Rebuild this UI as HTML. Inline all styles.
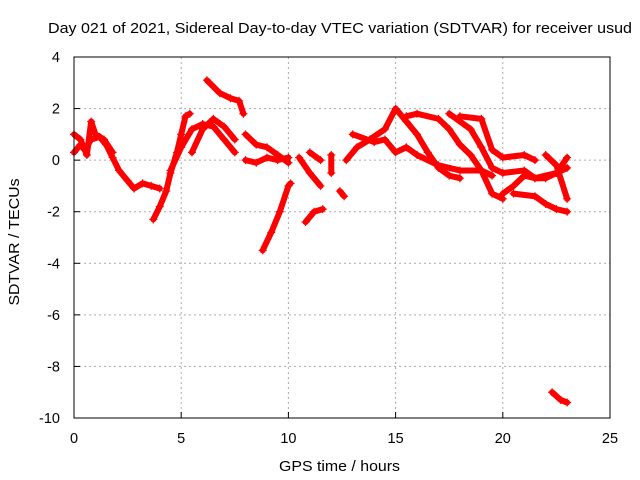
<!DOCTYPE html>
<html><head><meta charset="utf-8"><style>
body{margin:0;background:#fff}
svg{display:block;font-family:"Liberation Sans",sans-serif}
</style></head><body>
<svg id="chart" width="640" height="480">
<text x="48" y="33" font-size="15" textLength="584" lengthAdjust="spacingAndGlyphs">Day 021 of 2021, Sidereal Day-to-day VTEC variation (SDTVAR) for receiver usud</text>
<text x="279" y="471" font-size="15" textLength="121" lengthAdjust="spacingAndGlyphs">GPS time / hours</text>
<text x="19" y="242" text-anchor="middle" font-size="15" textLength="127" lengthAdjust="spacingAndGlyphs" transform="rotate(-90 19 242)">SDTVAR / TECUs</text>
<g id="grid"></g><g id="marks"></g>
<rect x="74" y="57" width="536" height="361" fill="none" stroke="#000"/>
</svg>
<script>
const xTicks=[0,5,10,15,20,25];
const yTicks=[4,2,0,-2,-4,-6,-8,-10];
const tracks=[
[[0,0.3],[0.3,0.6],[0.5,0.4],[0.8,0.8],[1.2,0.9],[1.5,0.6],[1.8,0.1],[2.1,-0.4],[2.5,-0.8],[2.8,-1.1],[3.2,-0.9],[3.6,-1.0],[4.0,-1.1]],
[[0,1.0],[0.3,0.8],[0.6,0.2],[0.8,1.5],[1.0,1.0],[1.4,0.8],[1.8,0.3]],
[[3.7,-2.3],[4.0,-1.8],[4.3,-1.2],[4.5,-0.5],[4.8,0.3],[5.0,1.0],[5.2,1.7],[5.4,1.8]],
[[4.5,-0.4],[5,0.5],[5.5,1.2],[6,1.4],[6.5,1.3],[7,0.8],[7.5,0.3]],
[[5.5,0.3],[6,1.2],[6.5,1.6],[7,1.3],[7.5,0.8]],
[[6.2,3.1],[6.8,2.6],[7.3,2.4],[7.7,2.3],[7.9,1.8]],
[[8,1.0],[8.5,0.6],[9,0.5],[9.5,0.2],[10,-0.1]],
[[8,0.0],[8.5,-0.1],[9,0.1],[9.5,0.0],[10,0.1]],
[[8.8,-3.5],[9.2,-2.8],[9.6,-2.0],[10,-1.0],[10.1,-0.9]],
[[10.8,-2.4],[11.2,-2.0],[11.6,-1.9]],
[[10.5,0.1],[11,-0.5],[11.5,-1.0]],
[[11,0.3],[11.5,0.0]],
[[12,0.2],[12,-0.5]],
[[12.4,-1.2],[12.6,-1.4]],
[[12.7,0.0],[13.2,0.5],[13.8,0.8],[14.5,1.2],[15,2.0],[15.5,1.5],[16,1.0],[16.5,0.3],[17,-0.3],[17.5,-0.6],[18,-0.7]],
[[13,1.0],[14,0.7],[14.5,0.8],[15,0.3],[15.5,0.5],[16,0.2],[17,-0.2],[18,-0.4],[19,-0.4],[19.5,-0.6]],
[[15.5,1.7],[16,1.8],[17,1.6],[17.5,1.2],[18,0.6],[18.5,0.2],[19,-0.4],[19.5,-1.3],[20,-1.5]],
[[17.5,1.8],[18.5,1.2],[19,0.5],[19.5,-0.3],[20,-0.5],[21,-0.4],[21.5,-0.7],[22,-0.7],[23,-0.3]],
[[18,1.7],[19,1.6],[19.5,0.4],[20,0.1],[21,0.2],[21.5,0.0]],
[[20,-1.3],[20.5,-1.0],[21,-0.6],[21.5,-0.7],[22.5,-0.5],[23,0.1]],
[[20.5,-1.3],[21.5,-1.4],[22,-1.7],[22.5,-1.9],[23,-2.0]],
[[22,0.2],[22.5,-0.2],[23,-1.5]],
[[22.3,-9.0],[22.7,-9.3],[23,-9.4]]
];
const X=v=>74+v/25*536, Y=v=>57+(4-v)/14*361;
const NS="http://www.w3.org/2000/svg";
const g=document.getElementById('grid'), m=document.getElementById('marks');
function mk(t,a,p){const e=document.createElementNS(NS,t);for(const k in a)e.setAttribute(k,a[k]);p.appendChild(e);return e;}
xTicks.forEach(t=>{
 if(t>0&&t<25){const l=mk('line',{x1:X(t),x2:X(t),y1:57,y2:418,stroke:'#aaa','stroke-dasharray':'2,3'},g);
 
 }
 const tk=mk('line',{x1:X(t),x2:X(t),y1:418,y2:412,stroke:'#000'},g);
 
 
 const tx=mk('text',{x:X(t),y:443,'text-anchor':'middle','font-size':'14.5'},g);tx.textContent=t;
 
 
});
yTicks.forEach(t=>{
 if(t<4&&t>-10){const l=mk('line',{x1:74,x2:610,y1:Y(t),y2:Y(t),stroke:'#aaa','stroke-dasharray':'2,3'},g);
 
 }
 const tk=mk('line',{x1:74,x2:80,y1:Y(t),y2:Y(t),stroke:'#000'},g);
 
 
 const tx=mk('text',{x:60,y:Y(t)+5,'text-anchor':'end','font-size':'14.5'},g);tx.textContent=t;
 
 
});
tracks.forEach(tr=>{
 const pl=mk('polyline',{points:tr.map(p=>X(p[0])+','+Y(p[1])).join(' '),fill:'none',stroke:'#f00','stroke-width':6,'stroke-linejoin':'round','stroke-linecap':'round'},m);
 
 
 tr.forEach(p=>{
  const x=X(p[0]),y=Y(p[1]);
  const pt=mk('path',{d:`M${x-4},${y}H${x+4}M${x},${y-4}V${y+4}`,stroke:'#f00','stroke-width':1.2},m);
  
  
 });
});
</script>
</body></html>
